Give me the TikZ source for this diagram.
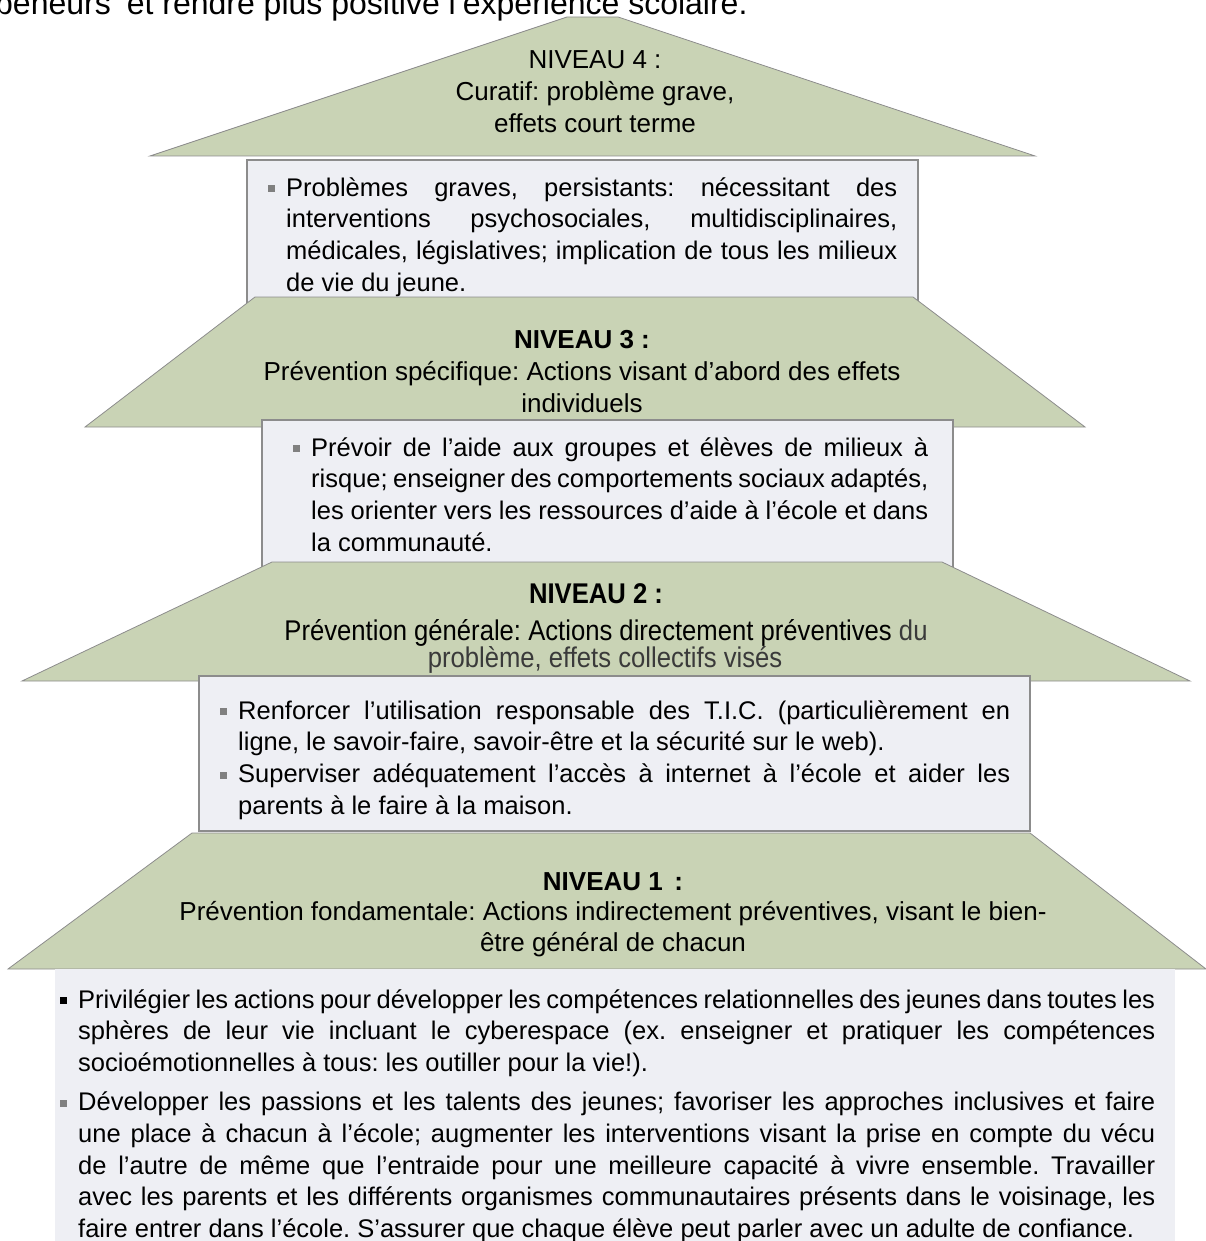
\documentclass[tikz,border=0pt]{standalone}
\usepackage{fontspec}
\setmainfont{Liberation Sans}
\newfontfamily\narrowsans[FakeStretch=0.9]{Liberation Sans}
\definecolor{lvgreen}{HTML}{C9D3B5}
\definecolor{boxfill}{HTML}{EEEFF4}
\definecolor{edgegray}{HTML}{8C8C8C}
\definecolor{bulgray}{HTML}{808080}
\definecolor{softtxt}{HTML}{3A3A3A}
\newcommand{\sqbul}[1]{\makebox[18pt][l]{\textcolor{#1}{\raisebox{4pt}{\rule{7pt}{7pt}}}}}
\newcommand{\bitem}[2]{\hangindent=18pt\hangafter=1\noindent\sqbul{#1}\rule{0pt}{24pt}#2\par}
\tikzset{
  level/.style={fill=lvgreen, draw=edgegray, line width=0.8pt},
  tbox/.style={fill=boxfill, draw=edgegray, line width=1.6pt},
  title/.style={anchor=base, inner sep=0pt, font=\fontsize{26}{32}\selectfont},
  narrowtitle/.style={anchor=base, inner sep=0pt, font=\narrowsans\fontsize{28.5}{32}\selectfont},
  bodytxt/.style={anchor=north west, inner sep=0pt, align=justify, font=\fontsize{25.5}{31.7}\selectfont}
}
\frenchspacing
\begin{document}
\frenchspacing
\begin{tikzpicture}[x=1pt, y=-1pt]
\useasboundingbox (0,0) rectangle (1206,1241);
\clip (0,0) rectangle (1206,1241);
% cropped sentence at top
\node[anchor=base west, inner sep=0pt, font=\fontsize{32}{36}\selectfont] (topline) at (-5,15) {peneurs’ et rendre plus positive l’expérience scolaire.};

% LEVEL 4
\path[level] (567,17) -- (618,17) -- (1035,156) -- (150,156) -- cycle;
\node[title] (n4a) at (595,69) {NIVEAU 4 :};
\node[title] (n4b) at (595,101) {Curatif: problème grave,};
\node[title] (n4c) at (595,133) {effets court terme};
\path[tbox] (247,160) rectangle (918,310);
\node[bodytxt, text width=629pt] (b4) at (268,172) {%
\bitem{bulgray}{Problèmes graves, persistants: nécessitant des\linebreak interventions psychosociales, multidisciplinaires,\linebreak médicales, législatives; implication de tous les milieux\linebreak de vie du jeune.}};

% LEVEL 3
\path[level] (255,297) -- (913,297) -- (1085,427) -- (85,427) -- cycle;
\node[title, font=\bfseries\fontsize{26}{32}\selectfont] (n3a) at (582,348) {NIVEAU 3 :};
\node[title] (n3b) at (582,380) {Prévention spécifique: Actions visant d’abord des effets};
\node[title] (n3c) at (582,412) {individuels};
\path[tbox] (262,420) rectangle (953,572);
\node[bodytxt, text width=635pt] (b3) at (293,432) {%
\bitem{bulgray}{Prévoir de l’aide aux groupes et élèves de milieux à\linebreak risque; enseigner des comportements sociaux adaptés,\linebreak les orienter vers les ressources d’aide à l’école et dans\linebreak la communauté.}};

% LEVEL 2
\path[level] (272,562) -- (942,562) -- (1190,681) -- (22,681) -- cycle;
\node[narrowtitle, font=\narrowsans\bfseries\fontsize{28.5}{32}\selectfont] (n2a) at (596,603) {NIVEAU 2 :};
\node[narrowtitle] (n2b) at (606,640) {Prévention générale: Actions directement préventives \textcolor{softtxt}{du}};
\node[narrowtitle, text=softtxt] (n2c) at (605,667) {problème, effets collectifs visés};
\path[tbox] (199,676) rectangle (1030,831);
\node[bodytxt, text width=790pt] (b2) at (220,695) {%
\bitem{bulgray}{Renforcer l’utilisation responsable des T.I.C. (particulièrement en\linebreak ligne, le savoir-faire, savoir-être et la sécurité sur le web).}
\bitem{bulgray}{Superviser adéquatement l’accès à internet à l’école et aider les\linebreak parents à le faire à la maison.}};

% LEVEL 1
\path[level] (192,833) -- (1030,833) -- (1206,969) -- (8,969) -- cycle;
\node[title, font=\bfseries\fontsize{26}{32}\selectfont] (n1a) at (613,890) {NIVEAU 1 \,:};
\node[title] (n1b) at (613,920) {Prévention fondamentale: Actions indirectement préventives, visant le bien-};
\node[title] (n1c) at (613,951) {être général de chacun};
\path[fill=boxfill] (55,969) rectangle (1175,1250);
\node[bodytxt, text width=1095pt] (b1) at (60,984) {%
\bitem{black}{Privilégier les actions pour développer les compétences relationnelles des jeunes dans toutes les\linebreak sphères de leur vie incluant le cyberespace (ex. enseigner et pratiquer les compétences\linebreak socioémotionnelles à tous: les outiller pour la vie!).}
\vskip 7.5pt
\bitem{bulgray}{Développer les passions et les talents des jeunes; favoriser les approches inclusives et faire\linebreak une place à chacun à l’école; augmenter les interventions visant la prise en compte du vécu\linebreak de l’autre de même que l’entraide pour une meilleure capacité à vivre ensemble. Travailler\linebreak avec les parents et les différents organismes communautaires présents dans le voisinage, les\linebreak faire entrer dans l’école. S’assurer que chaque élève peut parler avec un adulte de confiance.}};
\end{tikzpicture}
\end{document}
